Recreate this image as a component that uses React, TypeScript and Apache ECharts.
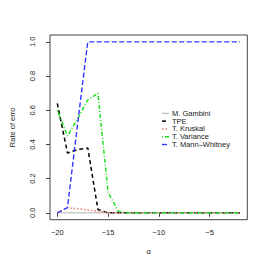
import React, { useEffect, useRef } from "react";
import * as echarts from "echarts";

const alphas = [-20, -19, -18, -17, -16, -15, -14, -13, -12, -11, -10, -9, -8, -7, -6, -5, -4, -3, -2];
const gambini = [0, 0, 0, 0, 0, 0, 0, 0, 0, 0, 0, 0, 0, 0, 0, 0, 0, 0, 0];
const tpe = [0.64, 0.35, 0.37, 0.38, 0.02, 0, 0, 0, 0, 0, 0, 0, 0, 0, 0, 0, 0, 0, 0];
const kruskal = [0, 0.03, 0.024, 0.017, 0.009, 0, 0, 0, 0, 0, 0, 0, 0, 0, 0, 0, 0, 0, 0];
const variance = [0.6, 0.45, 0.55, 0.66, 0.7, 0.12, 0.01, 0, 0, 0, 0, 0, 0, 0, 0, 0, 0, 0, 0];
const mannWhitney = [0, 0.03, 0.52, 1, 1, 1, 1, 1, 1, 1, 1, 1, 1, 1, 1, 1, 1, 1, 1];

const seriesNames = ["M. Gambini", "TPE", "T. Kruskal", "T. Variance", "T. Mann\u2013Whitney"];
const xTicks = [-20, -15, -10, -5];
const yTicks = [0, 0.2, 0.4, 0.6, 0.8, 1.0];

const FONT = "Liberation Sans, Arial, Helvetica, sans-serif";

export default function App() {
  const ref = useRef<HTMLDivElement>(null);
  useEffect(() => {
    if (!ref.current) return;
    const chart = echarts.init(ref.current, null, { renderer: "svg" });
    const pair = (ys: number[]) => alphas.map((a, i) => [a, ys[i]]);
    const styles = [
      { color: "#b0b0b0", type: "solid" as any, width: 1 },
      { color: "#000000", type: [4, 3] as any, width: 1.5 },
      { color: "#ee7777", type: [1.5, 2] as any, width: 1.5 },
      { color: "#22dd22", type: [1, 2, 4, 2] as any, width: 1.5 },
      { color: "#3333ff", type: [5, 2.5] as any, width: 1.4 },
    ];
    const datas = [gambini, tpe, kruskal, variance, mannWhitney];
    const legendX = 162;
    const legendY = 113.3;
    const rowH = 7.8;
    const legendGraphics: any[] = [];
    seriesNames.forEach((n, i) => {
      const y = legendY + i * rowH;
      legendGraphics.push({
        type: "line",
        shape: { x1: legendX, y1: y, x2: legendX + 7, y2: y },
        style: {
          stroke: styles[i].color,
          lineWidth: styles[i].width,
          lineDash: Array.isArray(styles[i].type) ? styles[i].type : null,
        },
        silent: true,
      });
      legendGraphics.push({
        type: "text",
        x: legendX + 10,
        y,
        style: {
          text: n,
          fontSize: 7.5,
          fontFamily: FONT,
          fill: "#222",
          verticalAlign: "middle",
          align: "left",
        },
        silent: true,
      });
    });
    chart.setOption({
      animation: false,
      backgroundColor: "#ffffff",
      textStyle: { fontFamily: FONT },
      grid: {
        left: 36,
        top: 35,
        right: 18.7,
        bottom: 45.3,
        show: true,
        borderColor: "#444",
        borderWidth: 1,
        backgroundColor: "transparent",
      },
      graphic: legendGraphics,
      xAxis: {
        type: "value",
        min: -20.72,
        max: -1.28,
        name: "\u03b1",
        nameLocation: "middle",
        nameGap: 28,
        nameTextStyle: { fontSize: 7.5, color: "#222", fontFamily: FONT },
        axisLine: { show: false },
        splitLine: { show: false },
        axisTick: { show: true, inside: false, length: 4, customValues: xTicks, lineStyle: { color: "#444" } },
        axisLabel: {
          customValues: xTicks,
          margin: 9,
          fontSize: 7.5,
          color: "#222",
          fontFamily: FONT,
          formatter: (v: number) => String(v).replace("-", "\u2212"),
        },
      },
      yAxis: {
        type: "value",
        min: -0.04,
        max: 1.04,
        name: "Rate of erro",
        nameLocation: "middle",
        nameRotate: 90,
        nameGap: 34,
        nameTextStyle: { fontSize: 7.5, color: "#222", fontFamily: FONT },
        axisLine: { show: false },
        splitLine: { show: false },
        axisTick: { show: true, inside: false, length: 4, customValues: yTicks, lineStyle: { color: "#444" } },
        axisLabel: {
          customValues: yTicks,
          rotate: 90,
          margin: 14,
          fontSize: 7.5,
          color: "#222",
          fontFamily: FONT,
          formatter: (v: number) => v.toFixed(1),
        },
      },
      series: seriesNames.map((n, i) => ({
        name: n,
        type: "line",
        data: pair(datas[i]),
        symbol: "none",
        showSymbol: false,
        lineStyle: styles[i],
        itemStyle: { color: styles[i].color },
        z: 2 + i,
      })),
    });
    return () => chart.dispose();
  }, []);
  return (
    <div
      ref={ref}
      style={{ position: "fixed", left: 0, top: 0, width: 266, height: 265, background: "#fff" }}
    />
  );
}
